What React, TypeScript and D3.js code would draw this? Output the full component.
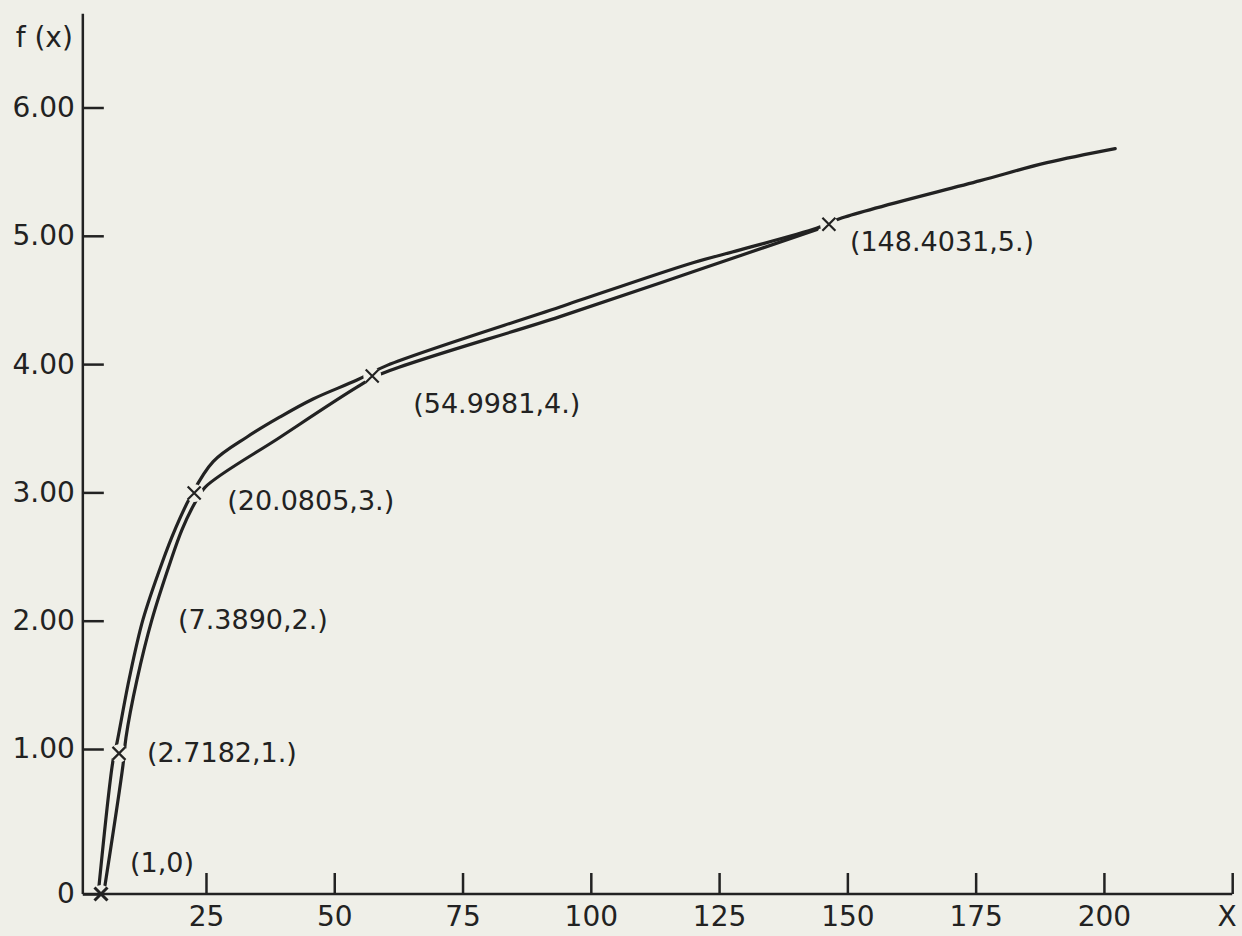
import { useEffect, useRef } from "react";
import * as d3 from "d3";

const WIDTH = 1242;
const HEIGHT = 936;
const PAPER = "#efefe8";
const INK = "#222222";
const FONT = "'DejaVu Sans', sans-serif";

// Tabulated points of f(x) = ln x, placed where the drawing puts them
const pointLabels = ["(1,0)", "(2.7182,1.)", "(7.3890,2.)", "(20.0805,3.)", "(54.9981,4.)", "(148.4031,5.)"];
const pointX = [4.54, 8.05, 14.48, 22.7, 57.4, 146.4];
const pointY = [0, 0.97, 2.01, 2.995, 3.907, 5.09];
const pointMarked = [true, true, false, true, true, true];

// Smooth curve (upper / left trace)
const curveX = [4.15, 6.88, 7.66, 10.0, 12.73, 16.43, 18.96, 21.89, 26.4, 33.0, 39.43, 45.87, 54.43, 60.3, 94.0, 119.9, 129.1, 144.1, 149.0, 175.9, 188.9, 202.2];
const curveY = [0.055, 0.92, 1.05, 1.54, 2.01, 2.45, 2.71, 2.96, 3.24, 3.432, 3.588, 3.728, 3.876, 3.99, 4.445, 4.79, 4.89, 5.06, 5.14, 5.43, 5.57, 5.68];

// Approximating trace through the tabulated points (lower / right trace)
const chordX = [5.32, 8.83, 9.41, 11.56, 14.48, 17.99, 20.33, 22.86, 24.81, 39.44, 54.43, 58.92, 94.0, 119.9, 144.1];
const chordY = [0.06, 0.89, 1.09, 1.54, 2.01, 2.45, 2.71, 2.92, 3.04, 3.43, 3.82, 3.92, 4.37, 4.72, 5.05];

const xTicks = [25, 50, 75, 100, 125, 150, 175, 200, 225];
const yTicks = [0, 1, 2, 3, 4, 5, 6];

// label offsets from each point, in pixels
const labelOffsets: [number, number][] = [[29, -32], [28, -1], [26, 0], [33, 7], [41, 27], [21, 17]];

export default function App() {
  const svgRef = useRef<SVGSVGElement>(null);

  useEffect(() => {
    if (!svgRef.current) return;
    const svg = d3.select(svgRef.current);
    svg.selectAll("*").remove();

    const x = d3.scaleLinear().domain([0, 225]).range([77.7, 1232.2]);
    // the drawing has a longer step from 0 to 1 than between the other ticks
    const y = d3.scaleLinear().domain([0, 1, 6]).range([894, 749, 107.5]);
    const xOrigin = 1;
    const yAxisTop = 6.73;

    svg.append("rect").attr("width", WIDTH).attr("height", HEIGHT).attr("fill", PAPER);

    const line = d3
      .line<[number, number]>()
      .x((d) => x(d[0]))
      .y((d) => y(d[1]))
      .curve(d3.curveCatmullRom.alpha(0.5));

    const curve = curveX.map((v, i) => [v, curveY[i]] as [number, number]);
    const chord = chordX.map((v, i) => [v, chordY[i]] as [number, number]);

    for (const series of [curve, chord]) {
      svg.append("path")
        .datum(series)
        .attr("fill", "none")
        .attr("stroke", INK)
        .attr("stroke-width", 3.2)
        .attr("stroke-linecap", "round")
        .attr("d", line);
    }

    const points = pointLabels.map((label, i) => ({
      label,
      x: pointX[i],
      y: pointY[i],
      marked: pointMarked[i],
      off: labelOffsets[i],
    }));

    // paper-coloured gaps where the traces meet the markers
    svg.append("g")
      .selectAll("circle")
      .data(points.filter((p) => p.marked))
      .join("circle")
      .attr("cx", (d) => x(d.x))
      .attr("cy", (d) => y(d.y))
      .attr("r", 9)
      .attr("fill", PAPER);

    // axes lines
    svg.append("line")
      .attr("x1", x(xOrigin))
      .attr("x2", x(xOrigin))
      .attr("y1", y(0))
      .attr("y2", y(yAxisTop))
      .attr("stroke", INK)
      .attr("stroke-width", 2.5);
    svg.append("line")
      .attr("x1", x(xOrigin))
      .attr("x2", x(225))
      .attr("y1", y(0))
      .attr("y2", y(0))
      .attr("stroke", INK)
      .attr("stroke-width", 2.5);

    const xAxis = svg.append("g")
      .attr("transform", `translate(0,${y(0)})`)
      .call(
        d3.axisBottom(x)
          .tickValues(xTicks)
          .tickSize(-21)
          .tickPadding(12)
          .tickFormat((d) => (d === 225 ? "" : String(d)))
      );
    xAxis.select(".domain").remove();
    xAxis.selectAll("line").attr("stroke", INK).attr("stroke-width", 2.5);
    xAxis.selectAll("text").attr("font-family", FONT).attr("font-size", 28).attr("fill", INK);

    const yAxis = svg.append("g")
      .attr("transform", `translate(${x(xOrigin)},0)`)
      .call(
        d3.axisLeft(y)
          .tickValues(yTicks)
          .tickSize(-21)
          .tickPadding(8)
          .tickFormat((d) => (d === 0 ? "0" : (d as number).toFixed(2)))
      );
    yAxis.select(".domain").remove();
    yAxis.selectAll("line").attr("stroke", INK).attr("stroke-width", 2.5);
    yAxis.selectAll("text").attr("font-family", FONT).attr("font-size", 28).attr("fill", INK);

    // axis titles
    svg.append("text")
      .attr("x", x(xOrigin) - 10)
      .attr("y", y(yAxisTop) + 24)
      .attr("text-anchor", "end")
      .attr("dominant-baseline", "central")
      .attr("font-family", FONT)
      .attr("font-size", 28)
      .attr("fill", INK)
      .text("f (x)");
    svg.append("text")
      .attr("x", x(225) - 5)
      .attr("y", y(0) + 12)
      .attr("dy", "0.71em")
      .attr("text-anchor", "middle")
      .attr("font-family", FONT)
      .attr("font-size", 28)
      .attr("fill", INK)
      .text("X");

    // markers
    const s = 6.5;
    svg.append("g")
      .selectAll("path")
      .data(points.filter((p) => p.marked))
      .join("path")
      .attr("d", (d) => {
        const cx = x(d.x);
        const cy = y(d.y);
        return `M${cx - s},${cy - s}L${cx + s},${cy + s}M${cx - s},${cy + s}L${cx + s},${cy - s}`;
      })
      .attr("stroke", INK)
      .attr("stroke-width", (d) => (d.y === 0 ? 3 : 2.2))
      .attr("fill", "none");

    // point labels
    svg.append("g")
      .selectAll("text")
      .data(points)
      .join("text")
      .attr("x", (d) => x(d.x) + d.off[0])
      .attr("y", (d) => y(d.y) + d.off[1])
      .attr("dominant-baseline", "central")
      .attr("font-family", FONT)
      .attr("font-size", 27)
      .attr("fill", INK)
      .text((d) => d.label);
  }, []);

  return (
    <svg
      ref={svgRef}
      width={WIDTH}
      height={HEIGHT}
      style={{ position: "absolute", left: 0, top: 0, display: "block" }}
    />
  );
}
